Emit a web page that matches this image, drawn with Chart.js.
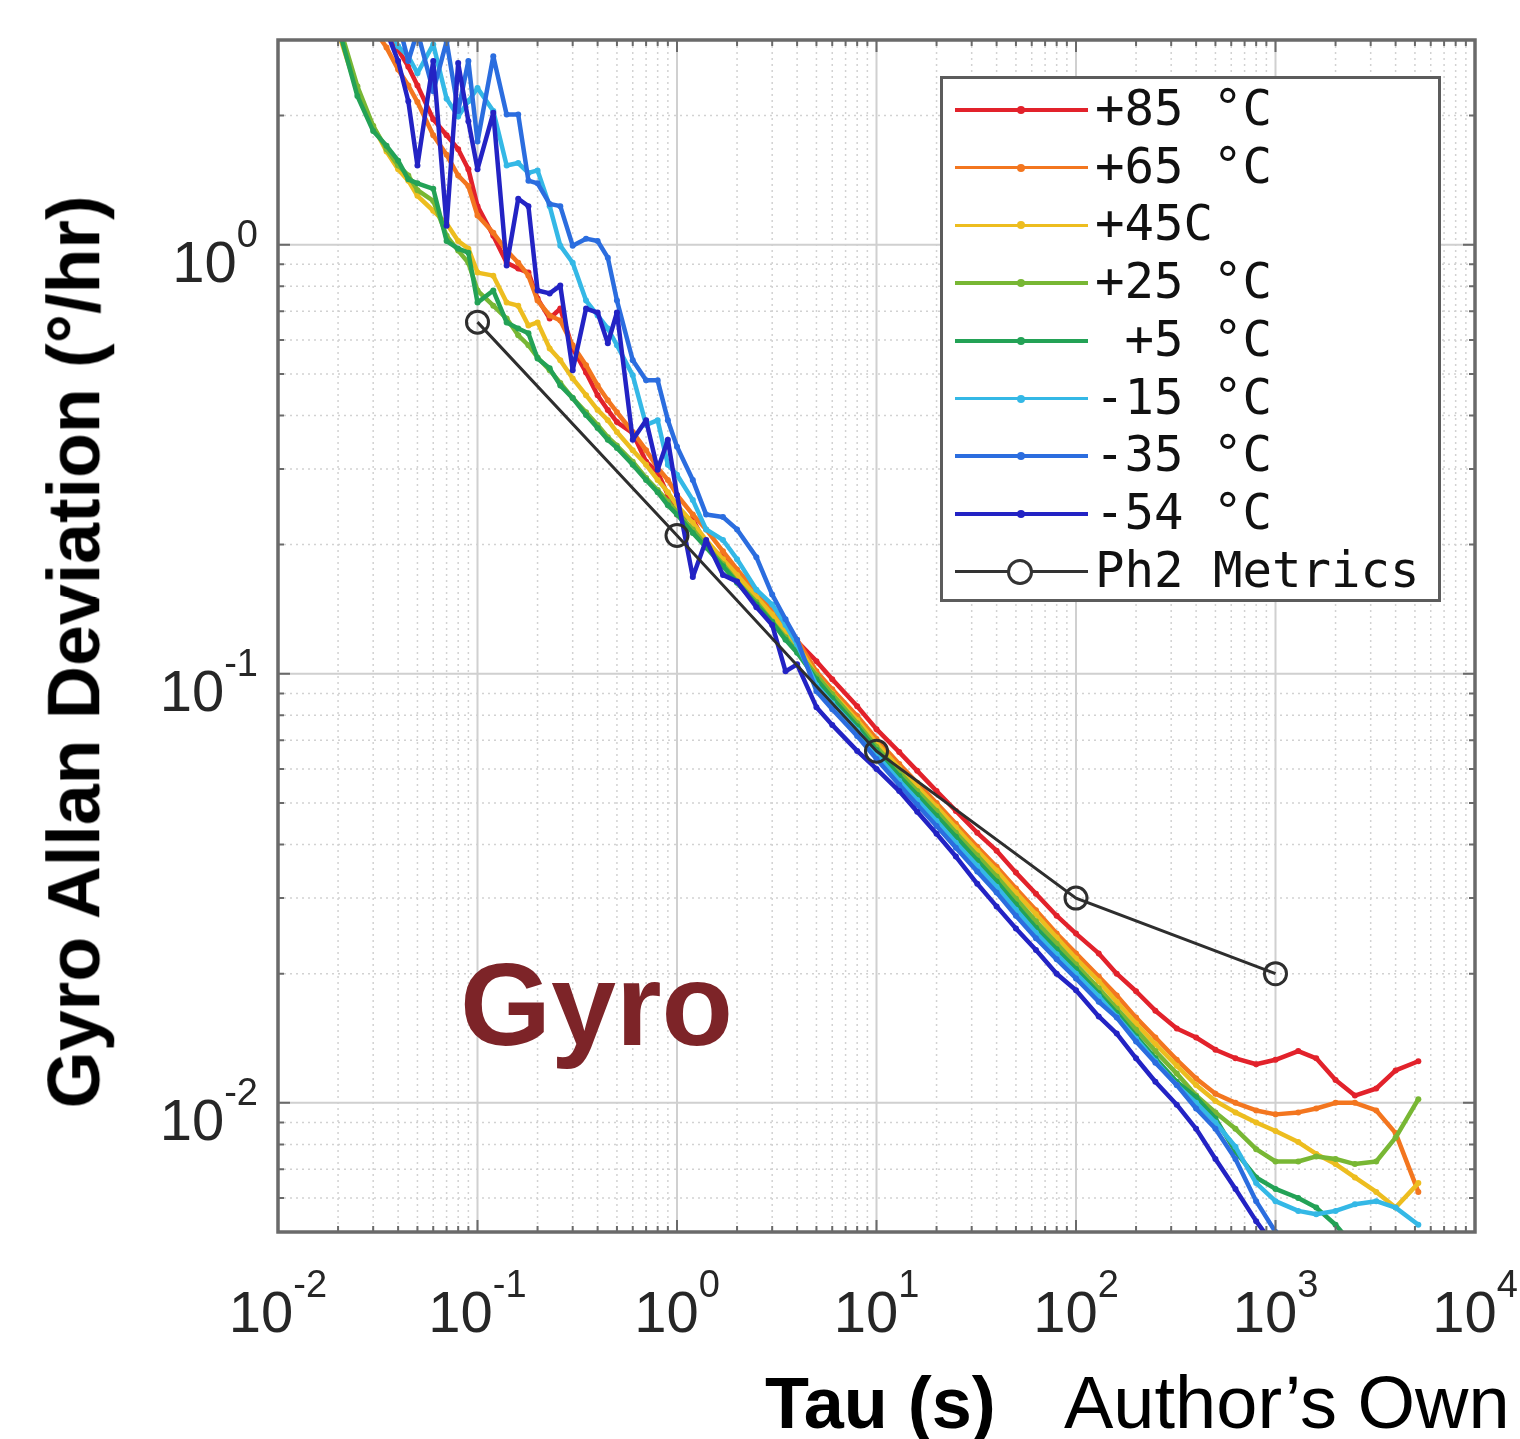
<!DOCTYPE html>
<html>
<head>
<meta charset="utf-8">
<script src="https://cdn.jsdelivr.net/npm/chart.js@4.4.1/dist/chart.umd.min.js"></script>
<style>
  body { margin: 0; background: #fff; }
  #wrap { position: relative; width: 1520px; height: 1439px; overflow: hidden; background: #fff; }
  #chart { position: absolute; left: 0; top: 0; }
  .txt { position: absolute; line-height: 1; white-space: nowrap; font-family: "Liberation Sans", Arial, sans-serif; }
  .tick { font-size: 58px; color: #262626; }
  .tick sup { font-size: 38px; vertical-align: baseline; position: relative; top: -35px; }
  #legend { position: absolute; left: 940px; top: 76px; width: 495px; height: 520px; border: 3px solid #5c5c5c; background: #fff; }
  .row { position: absolute; left: 0; height: 0; }
  .row .ln { position: absolute; left: 12px; width: 133px; height: 3.5px; top: -1.75px; }
  .row .mk { position: absolute; left: 74px; width: 8px; height: 8px; top: -4px; border-radius: 50%; }
  .row .ring { position: absolute; left: 64px; width: 20px; height: 20px; top: -13px; border-radius: 50%; border: 3px solid #333; background: #fff; }
  .row .lt { position: absolute; left: 152px; top: -26px; font: 49px "DejaVu Sans Mono", monospace; color: #111; white-space: pre; line-height: 1; }
</style>
</head>
<body>
<div id="wrap">
  <canvas id="chart" width="1520" height="1439"></canvas>
  <div id="legend"></div>
</div>
<script>
// tau (s), shared by the eight temperature runs
const tau = [0.02, 0.025, 0.03, 0.035, 0.04, 0.045, 0.05, 0.06, 0.07, 0.08, 0.09, 0.1,
  0.12, 0.14, 0.16, 0.18, 0.2, 0.23, 0.26, 0.3, 0.35, 0.4, 0.45, 0.5, 0.6, 0.7, 0.8, 0.9, 1,
  1.2, 1.4, 1.7, 2, 2.5, 3, 3.5, 4,
  5, 6, 8, 10, 13, 16, 20, 25, 32, 40, 50, 63, 80, 100, 130, 160, 200, 250, 320, 400, 500,
  630, 800, 1000, 1300, 1600, 2000, 2500, 3200, 4000, 5200];

// gyro Allan deviation (deg/hr)
const adevP85 = [5.0, 4.2, 3.5, 3.1, 2.85, 2.60, 2.35, 1.96, 1.80, 1.67, 1.50, 1.23,
  1.049, 0.908, 0.880, 0.861, 0.749, 0.673, 0.710, 0.573, 0.504, 0.446, 0.412, 0.386, 0.364, 0.312, 0.295, 0.261, 0.235,
  0.229, 0.200, 0.187, 0.170, 0.152, 0.1375, 0.127, 0.119,
  0.107, 0.0971, 0.0840, 0.0743, 0.0657, 0.0594, 0.0533, 0.0479, 0.0426, 0.0387, 0.0344, 0.0307, 0.0273, 0.0248,
  0.0223, 0.0200, 0.0182, 0.0164, 0.0149, 0.0142, 0.0133, 0.0127, 0.0123, 0.0126, 0.0132, 0.0127, 0.0113, 0.0104,
  0.0108, 0.0119, 0.0125];
const adevP65 = [4.5, 3.8, 3.2, 2.88, 2.56, 2.35, 2.15, 1.80, 1.62, 1.45, 1.37, 1.17,
  1.066, 0.969, 0.908, 0.847, 0.741, 0.684, 0.666, 0.583, 0.524, 0.470, 0.434, 0.407, 0.366, 0.332, 0.302, 0.283, 0.261,
  0.235, 0.217, 0.193, 0.175, 0.155, 0.141, 0.130, 0.120,
  0.1013, 0.0920, 0.0797, 0.0705, 0.0616, 0.0557, 0.0500, 0.0447, 0.0395, 0.0355, 0.0316, 0.0281, 0.0248, 0.0223,
  0.0197, 0.0178, 0.0158, 0.0142, 0.0126, 0.0114, 0.0105, 0.0100, 0.0096, 0.0094, 0.0095, 0.0097, 0.0100, 0.0100,
  0.0096, 0.0085, 0.0062];
const adevP45 = [3.14, 2.28, 1.89, 1.65, 1.50, 1.41, 1.30, 1.20, 1.12, 1.02, 0.979, 0.861,
  0.847, 0.733, 0.721, 0.648, 0.659, 0.573, 0.538, 0.488, 0.446, 0.412, 0.390, 0.366, 0.332, 0.307, 0.283, 0.265, 0.247,
  0.225, 0.205, 0.185, 0.170, 0.151, 0.1375, 0.1256, 0.117,
  0.0992, 0.0901, 0.0780, 0.0690, 0.0603, 0.0545, 0.0490, 0.0438, 0.0387, 0.0348, 0.0309, 0.0275, 0.0243, 0.0217,
  0.0192, 0.0172, 0.0153, 0.0137, 0.0122, 0.0110, 0.0101, 0.0095, 0.0090, 0.0086, 0.0081, 0.0076, 0.0072, 0.0067,
  0.0062, 0.0057, 0.0065];
const adevP25 = [3.31, 2.34, 1.89, 1.67, 1.53, 1.45, 1.34, 1.265, 1.049, 0.969, 0.908, 0.782,
  0.721, 0.673, 0.615, 0.583, 0.546, 0.510, 0.476, 0.439, 0.407, 0.380, 0.356, 0.340, 0.312, 0.286, 0.268, 0.252, 0.238,
  0.217, 0.199, 0.180, 0.164, 0.147, 0.1324, 0.1216, 0.1128,
  0.0992, 0.0896, 0.0767, 0.0675, 0.0590, 0.0533, 0.0479, 0.0426, 0.0377, 0.0337, 0.0299, 0.0265, 0.0235, 0.0210,
  0.0185, 0.0166, 0.0148, 0.0132, 0.0117, 0.0104, 0.0095, 0.0087, 0.0078, 0.0073, 0.0073, 0.0075, 0.0074, 0.0072,
  0.0073, 0.0083, 0.0102];
const adevP5 = [3.23, 2.22, 1.84, 1.70, 1.57, 1.42, 1.39, 1.35, 1.02, 0.979, 0.958, 0.733,
  0.782, 0.659, 0.638, 0.622, 0.543, 0.515, 0.470, 0.439, 0.401, 0.374, 0.351, 0.336, 0.307, 0.283, 0.265, 0.247, 0.235,
  0.213, 0.197, 0.178, 0.163, 0.145, 0.132, 0.120, 0.112,
  0.0971, 0.0877, 0.0755, 0.0664, 0.0578, 0.0522, 0.0467, 0.0417, 0.0367, 0.0328, 0.0290, 0.0256, 0.0228, 0.0205,
  0.0180, 0.0162, 0.0143, 0.0127, 0.0112, 0.0103, 0.0092, 0.0077, 0.0067, 0.0063, 0.0060, 0.0057, 0.0052, 0.0046,
  null, null, null];
const adevM15 = [5.08, 4.33, 3.69, 3.31, 2.90, 2.75, 2.51, 2.93, 2.19, 1.99, 2.16, 2.32,
  2.05, 1.53, 1.55, 1.47, 1.49, 1.23, 0.995, 0.908, 0.741, 0.684, 0.638, 0.583, 0.496, 0.380, 0.390, 0.307, 0.291,
  0.254, 0.217, 0.205, 0.185, 0.157, 0.145, 0.130, 0.117,
  0.0940, 0.0854, 0.0739, 0.0647, 0.0563, 0.0508, 0.0454, 0.0404, 0.0357, 0.0319, 0.0282, 0.0249, 0.0222, 0.0200,
  0.0177, 0.0159, 0.0141, 0.0125, 0.0110, 0.0100, 0.0090, 0.0079, 0.0065, 0.0059, 0.0056, 0.0055, 0.0056, 0.0058,
  0.0059, 0.0057, 0.0052];
const adevM35 = [6.30, 5.08, 4.33, 3.69, 3.31, 2.68, 3.14, 2.28, 2.98, 2.05, 2.68, 1.74,
  2.75, 2.01, 2.01, 1.41, 1.39, 1.245, 1.23, 0.995, 1.033, 1.02, 0.933, 0.741, 0.538, 0.483, 0.483, 0.390, 0.338,
  0.283, 0.235, 0.232, 0.217, 0.187, 0.153, 0.134, 0.120,
  0.0911, 0.0827, 0.0716, 0.0633, 0.0551, 0.0495, 0.0442, 0.0393, 0.0346, 0.0309, 0.0273, 0.0242, 0.0216, 0.0195,
  0.0172, 0.0158, 0.0139, 0.0124, 0.0110, 0.0097, 0.0087, 0.0074, 0.0059, 0.0050, 0.0045, null, null, null,
  null, null, null];
const adevM54 = [4.82, 4.10, 3.69, 3.14, 2.68, 2.16, 1.53, 2.68, 1.107, 2.65, 1.94, 1.50,
  2.03, 0.894, 1.28, 1.23, 0.782, 0.770, 0.803, 0.510, 0.710, 0.695, 0.589, 0.695, 0.351, 0.390, 0.299, 0.351, 0.261,
  0.168, 0.205, 0.170, 0.164, 0.143, 0.130, 0.1013, 0.1052,
  0.0836, 0.0760, 0.0661, 0.0600, 0.0533, 0.0477, 0.0424, 0.0375, 0.0324, 0.0287, 0.0255, 0.0227, 0.0200, 0.0183,
  0.0159, 0.0145, 0.0127, 0.0112, 0.0099, 0.0087, 0.0074, 0.0063, 0.0053, 0.0046, null, null, null, null,
  null, null, null];

// Ph2 requirement points
const ph2Tau = [0.1, 1, 10, 100, 1000];
const ph2Adev = [0.66, 0.21, 0.066, 0.030, 0.020];

const seriesLabels = ['+85 °C', '+65 °C', '+45C', '+25 °C', ' +5 °C', '-15 °C', '-35 °C', '-54 °C'];
const seriesColors = ['#e2222b', '#f3761f', '#edbd1f', '#78b734', '#23a256', '#34b8e6', '#2b6ddf', '#2323c4'];
const allSeries = [adevP85, adevP65, adevP45, adevP25, adevP5, adevM15, adevM35, adevM54];

const xDecades = [0.01, 0.1, 1, 10, 100, 1000, 10000];
const xExps = ['-2', '-1', '0', '1', '2', '3', '4'];
const yDecades = [1, 0.1, 0.01];
const yExps = ['0', '-1', '-2'];

function toPoints(xs, ys) {
  return xs.map((x, i) => ({ x: x, y: ys[i] }));
}

function logTicks(min, max) {
  const out = [];
  for (let e = Math.floor(Math.log10(min)); e <= Math.ceil(Math.log10(max)); e++) {
    for (let m = 1; m < 10; m++) {
      const v = m * Math.pow(10, e);
      if (v >= min * 0.999 && v <= max * 1.001) out.push({ v: v, major: m === 1 });
    }
  }
  return out;
}

// matlab style grid, box and inward ticks
const matlabAxes = {
  id: 'matlabAxes',
  beforeDatasetsDraw(chart) {
    const { ctx, chartArea: a, scales: { x, y } } = chart;
    const xt = logTicks(x.min, x.max), yt = logTicks(y.min, y.max);
    ctx.save();
    ctx.lineWidth = 1.5;
    ctx.strokeStyle = '#d2d2d2';
    ctx.setLineDash([2, 4]);
    ctx.beginPath();
    xt.filter(t => !t.major).forEach(t => { const p = x.getPixelForValue(t.v); ctx.moveTo(p, a.top); ctx.lineTo(p, a.bottom); });
    yt.filter(t => !t.major).forEach(t => { const p = y.getPixelForValue(t.v); ctx.moveTo(a.left, p); ctx.lineTo(a.right, p); });
    ctx.stroke();
    ctx.setLineDash([]);
    ctx.lineWidth = 2;
    ctx.strokeStyle = '#d0d0d0';
    ctx.beginPath();
    xt.filter(t => t.major).forEach(t => { const p = x.getPixelForValue(t.v); ctx.moveTo(p, a.top); ctx.lineTo(p, a.bottom); });
    yt.filter(t => t.major).forEach(t => { const p = y.getPixelForValue(t.v); ctx.moveTo(a.left, p); ctx.lineTo(a.right, p); });
    ctx.stroke();
    ctx.restore();
  },
  afterDatasetsDraw(chart) {
    const { ctx, chartArea: a, scales: { x, y } } = chart;
    ctx.save();
    ctx.strokeStyle = '#6a6a6a';
    ctx.lineWidth = 2;
    ctx.beginPath();
    logTicks(x.min, x.max).forEach(t => {
      const p = x.getPixelForValue(t.v), len = t.major ? 12 : 6;
      ctx.moveTo(p, a.bottom); ctx.lineTo(p, a.bottom - len);
      ctx.moveTo(p, a.top); ctx.lineTo(p, a.top + len);
    });
    logTicks(y.min, y.max).forEach(t => {
      const p = y.getPixelForValue(t.v), len = t.major ? 12 : 6;
      ctx.moveTo(a.left, p); ctx.lineTo(a.left + len, p);
      ctx.moveTo(a.right, p); ctx.lineTo(a.right - len, p);
    });
    ctx.stroke();
    ctx.lineWidth = 3.5;
    ctx.strokeRect(a.left, a.top, a.right - a.left, a.bottom - a.top);
    ctx.restore();
  }
};

const datasets = allSeries.map((ys, i) => ({
  label: seriesLabels[i],
  data: toPoints(tau, ys),
  borderColor: seriesColors[i],
  backgroundColor: seriesColors[i],
  pointBackgroundColor: seriesColors[i],
  borderWidth: 4.5,
  pointRadius: 3,
  pointBorderWidth: 0,
  borderJoinStyle: 'round',
  tension: 0,
  order: allSeries.length - i
}));
datasets.push({
  label: 'Ph2 Metrics',
  data: toPoints(ph2Tau, ph2Adev),
  borderColor: '#2e2e2e',
  borderWidth: 3,
  pointRadius: 11,
  pointBorderWidth: 3,
  pointBorderColor: '#2e2e2e',
  pointBackgroundColor: 'rgba(255,255,255,0)',
  tension: 0,
  order: 0
});

const chart = new Chart(document.getElementById('chart').getContext('2d'), {
  type: 'line',
  data: { datasets: datasets },
  options: {
    responsive: false,
    animation: false,
    devicePixelRatio: 1,
    layout: { padding: { left: 278, top: 40, right: 45, bottom: 207 } },
    plugins: { legend: { display: false }, tooltip: { enabled: false } },
    scales: {
      x: { type: 'logarithmic', min: 0.01, max: 10000, display: false },
      y: { type: 'logarithmic', min: 0.005, max: 3, display: false }
    }
  },
  plugins: [matlabAxes]
});

const wrap = document.getElementById('wrap');
function addText(html, cls, style) {
  const d = document.createElement('div');
  d.className = 'txt ' + cls;
  d.innerHTML = html;
  Object.assign(d.style, style);
  wrap.appendChild(d);
  return d;
}

// tick labels from the scales
xDecades.forEach((v, i) => {
  addText('10<sup>' + xExps[i] + '</sup>', 'tick', {
    left: chart.scales.x.getPixelForValue(v) + 'px', top: '1312px', transform: 'translate(-50%,-50%)'
  });
});
yDecades.forEach((v, i) => {
  addText('10<sup>' + yExps[i] + '</sup>', 'tick', {
    left: '258px', top: (chart.scales.y.getPixelForValue(v) + 17) + 'px', transform: 'translate(-100%,-50%)'
  });
});

// axis titles and notes
addText('Gyro Allan Deviation (°/hr)', '', {
  left: '74px', top: '652px', fontSize: '73.5px', fontWeight: 'bold', color: '#000',
  transform: 'translate(-50%,-50%) rotate(-90deg)'
});
addText('Tau (s)', '', { left: '765px', top: '1367px', fontSize: '72px', fontWeight: 'bold', color: '#000' });
addText('Author’s Own', '', { left: '1064px', top: '1366px', fontSize: '74px', color: '#000' });
addText('Gyro', '', { left: '460px', top: '946px', fontSize: '117px', fontWeight: 'bold', color: '#7d2428' });

// legend
const legend = document.getElementById('legend');
const legendItems = seriesLabels.map((l, i) => ({ label: l, color: seriesColors[i], ring: false }))
  .concat([{ label: 'Ph2 Metrics', color: '#333333', ring: true }]);
legendItems.forEach((it, i) => {
  const row = document.createElement('div');
  row.className = 'row';
  row.style.top = (31 + i * 57.7) + 'px';
  row.innerHTML = '<div class="ln" style="background:' + it.color + '"></div>' +
    (it.ring ? '<div class="ring"></div>' : '<div class="mk" style="background:' + it.color + '"></div>') +
    '<div class="lt"></div>';
  row.querySelector('.lt').textContent = it.label;
  legend.appendChild(row);
});
</script>
</body>
</html>
